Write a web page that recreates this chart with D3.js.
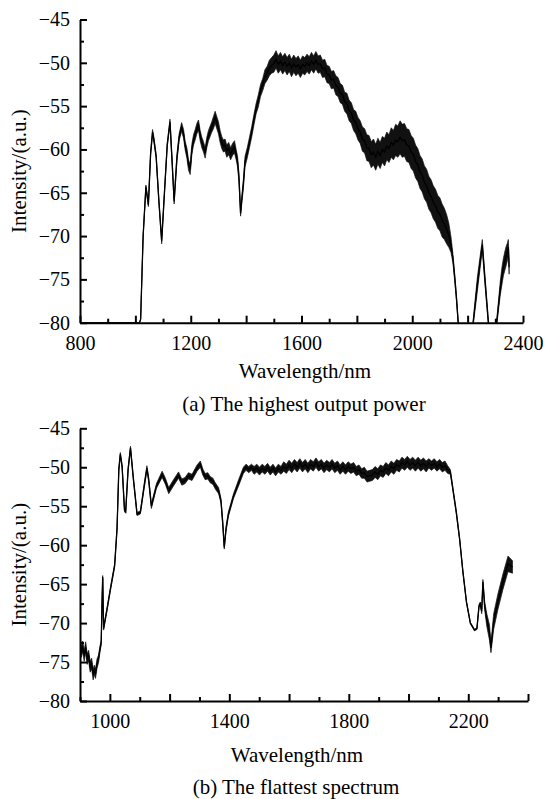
<!DOCTYPE html>
<html>
<head>
<meta charset="utf-8">
<style>
  body { margin: 0; background: #fff; }
  text { font-family: "Liberation Serif", "Times New Roman", Times, serif; fill: #000; }
  .axis path, .axis line { stroke: #000; stroke-width: 2; }
</style>
</head>
<body>
<svg width="549" height="799"></svg>
<script src="https://d3js.org/d3.v7.min.js"></script>
<script>
// (a) The highest output power: wavelength (nm), level (dB), noise half-width (dB)
var wlA = [800, 1015, 1019, 1028, 1038, 1047, 1055, 1062, 1067, 1075, 1085, 1095, 1105, 1115, 1125, 1132, 1140, 1150, 1158, 1167,
  1174, 1180, 1186, 1192, 1198, 1204, 1210, 1216, 1222, 1228, 1234, 1240, 1246, 1252, 1258, 1264, 1270, 1276, 1282, 1288,
  1294, 1300, 1306, 1312, 1318, 1324, 1330, 1337, 1344, 1351, 1358, 1364, 1369, 1374, 1380, 1385, 1390, 1396, 1404, 1412,
  1420, 1428, 1436, 1444, 1452, 1460, 1468, 1476, 1484, 1492, 1500, 1508, 1516, 1524, 1532, 1540, 1548, 1556, 1564, 1572,
  1580, 1588, 1596, 1604, 1612, 1620, 1628, 1636, 1644, 1652, 1660, 1668, 1676, 1684, 1692, 1700, 1708, 1716, 1724, 1732,
  1740, 1748, 1756, 1764, 1772, 1780, 1788, 1796, 1804, 1812, 1820, 1828, 1836, 1844, 1852, 1860, 1868, 1876, 1884, 1892,
  1900, 1908, 1916, 1924, 1932, 1940, 1948, 1956, 1964, 1972, 1980, 1988, 1996, 2004, 2012, 2020, 2028, 2036, 2044, 2052,
  2060, 2068, 2076, 2084, 2092, 2100, 2108, 2116, 2124, 2132, 2140, 2147, 2154, 2160, 2166, 2172, 2214, 2220, 2235, 2253,
  2262, 2275, 2282, 2300, 2305, 2318, 2324, 2329, 2335, 2340, 2344, 2347, 2350];
var dbA = [-80, -80, -79.6, -70, -64.3, -66.4, -60.5, -58, -58.9, -60.8, -66, -70.6, -65, -59.5, -56.8, -61, -66, -61, -58.6, -57.4,
  -58.2, -59.6, -60.4, -61.8, -62.3, -60, -58.9, -58.3, -57.6, -57.2, -58.4, -59.2, -59.7, -60.4, -59.2, -58.4, -57.9, -57.4, -56.9, -56.3,
  -56.9, -57.5, -58.5, -59.2, -59.6, -59.5, -60.2, -59.9, -60.5, -60, -59.7, -60.6, -61.4, -63.2, -67.4, -65.6, -64, -61.4, -60.4, -59.2,
  -58, -56.6, -55.3, -54.4, -53.2, -52.5, -51.6, -51.2, -50.6, -50.3, -50.1, -49.6, -50.2, -49.8, -50.3, -49.9, -50.4, -50, -50.6, -50.1,
  -50.5, -50.2, -50.7, -50.2, -50.4, -50, -50.3, -49.8, -50.2, -49.7, -50.2, -50.1, -50.7, -50.6, -51.3, -51.4, -52, -51.9, -52.6, -52.8,
  -53.5, -53.7, -54.5, -54.7, -55.5, -55.8, -56.6, -56.9, -57.6, -58, -58.8, -59, -59.8, -59.9, -60.6, -60.3, -60.9, -60.2, -60.7, -60,
  -60.3, -59.6, -59.9, -59.2, -59.5, -58.9, -59.1, -58.6, -59, -58.9, -59.5, -59.6, -60.3, -60.6, -61.4, -61.8, -62.6, -63, -63.8, -64.2,
  -65, -65.4, -66.1, -66.5, -67.2, -67.5, -68.2, -68.6, -69.2, -69.9, -71, -72.6, -75, -77.3, -80, -82, -82, -80, -75.6, -71,
  -74.8, -80, -82, -82, -80, -76, -74.6, -73.6, -72.8, -72.2, -71.8, -71.3, -73.6];
var noiseA = [0, 0, 0, 0.1, 0.2, 0.2, 0.2, 0.3, 0.3, 0.2, 0.2, 0.3, 0.2, 0.2, 0.3, 0.3, 0.3, 0.4, 0.4, 0.5,
  0.5, 0.5, 0.6, 0.6, 0.6, 0.6, 0.6, 0.6, 0.6, 0.6, 0.6, 0.6, 0.6, 0.6, 0.6, 0.6, 0.6, 0.6, 0.7, 0.7,
  0.7, 0.7, 0.7, 0.7, 0.7, 0.7, 0.7, 0.7, 0.7, 0.7, 0.7, 0.6, 0.6, 0.5, 0.3, 0.4, 0.5, 0.6, 0.6, 0.6,
  0.6, 0.6, 0.6, 0.7, 0.7, 0.7, 0.8, 0.8, 0.9, 0.9, 1.0, 1.0, 1.0, 1.0, 1.0, 1.0, 1.0, 1.0, 1.0, 1.0,
  1.0, 1.0, 1.0, 1.0, 1.0, 1.0, 1.0, 1.0, 1.0, 1.0, 1.0, 1.0, 1.0, 1.0, 1.0, 1.0, 1.0, 1.0, 1.1, 1.1,
  1.1, 1.1, 1.1, 1.2, 1.2, 1.2, 1.2, 1.3, 1.3, 1.3, 1.4, 1.4, 1.5, 1.5, 1.5, 1.5, 1.5, 1.5, 1.5, 1.5,
  1.6, 1.6, 1.6, 1.7, 1.7, 1.8, 1.8, 1.9, 1.9, 1.9, 1.9, 1.9, 1.9, 1.9, 1.9, 1.9, 1.9, 1.9, 1.9, 1.9,
  1.9, 1.9, 1.9, 1.9, 1.9, 1.9, 1.9, 1.8, 1.7, 1.4, 0.9, 0.5, 0.4, 0.3, 0.2, 0, 0, 0.3, 0.8, 0.6,
  0.5, 0.3, 0, 0, 0.3, 0.8, 1.0, 1.0, 1.1, 1.1, 1.0, 0.9, 0.8];

// (b) The flattest spectrum
var wlB = [900, 904, 909, 914, 919, 924, 929, 934, 939, 944, 948, 952, 957, 962, 967, 971, 974, 976, 979, 991,
  1002, 1016, 1024, 1030, 1035, 1041, 1049, 1053, 1061, 1069, 1078, 1091, 1102, 1115, 1124, 1130, 1139, 1156, 1175, 1186,
  1197, 1213, 1230, 1241, 1252, 1263, 1275, 1292, 1303, 1311, 1319, 1328, 1336, 1345, 1353, 1364, 1372, 1378, 1383, 1389,
  1397, 1414, 1431, 1447, 1456, 1465, 1474, 1483, 1492, 1501, 1510, 1519, 1528, 1537, 1546, 1555, 1564, 1573, 1582, 1591,
  1600, 1609, 1618, 1627, 1636, 1645, 1654, 1663, 1672, 1681, 1690, 1699, 1708, 1717, 1726, 1735, 1744, 1753, 1762, 1771,
  1780, 1789, 1798, 1807, 1816, 1825, 1834, 1843, 1852, 1861, 1870, 1879, 1888, 1897, 1906, 1915, 1924, 1933, 1942, 1951,
  1960, 1969, 1978, 1987, 1996, 2005, 2014, 2023, 2032, 2041, 2050, 2059, 2068, 2077, 2086, 2095, 2104, 2113, 2122, 2131,
  2140, 2147, 2160, 2171, 2182, 2194, 2207, 2221, 2229, 2236, 2240, 2245, 2249, 2255, 2262, 2271, 2276, 2285, 2299, 2316,
  2333, 2348];
var dbB = [-71.5, -73.8, -73, -74.2, -73.1, -74.6, -74.2, -75.6, -75.2, -76.6, -76, -76.5, -75.2, -74.6, -73.3, -72.5, -67, -64.1, -70.7, -68.1,
  -65.6, -62.6, -57.9, -50.3, -48.3, -49.9, -55.5, -55.7, -50.3, -47.5, -51.2, -56, -55.8, -52.4, -50.1, -51.6, -55, -52.4, -50.9, -51.8,
  -53, -52, -51, -51.9, -51.7, -51.1, -51.3, -50.1, -49.6, -50.6, -51.2, -51.1, -51.6, -51.8, -52.4, -53, -54.3, -57.2, -60.3, -57.9,
  -56, -53.7, -52, -50.4, -50, -50.3, -50, -50.4, -50.1, -50.5, -50.1, -50.4, -50, -50.5, -50.1, -50.6, -50.1, -50.4, -49.9, -50.2,
  -49.7, -50.1, -49.6, -50, -49.5, -50, -49.6, -50.1, -49.6, -49.9, -49.4, -49.9, -49.6, -50.1, -49.7, -50, -49.6, -50.1, -49.8, -50.3,
  -49.9, -50.3, -49.9, -50.2, -50, -50.5, -50.3, -50.8, -50.7, -51.2, -51.1, -51, -50.6, -50.9, -50.4, -50.6, -50.1, -50.4, -49.9, -50.2,
  -49.7, -49.9, -49.4, -49.7, -49.3, -49.7, -49.4, -49.8, -49.4, -49.8, -49.5, -49.9, -49.5, -49.8, -49.5, -49.9, -49.6, -50, -49.8, -50.3,
  -50.6, -52.4, -55.8, -59.2, -63.4, -67.3, -70, -70.9, -70.7, -67.8, -67.5, -68.5, -64.7, -67.8, -69.6, -71.2, -73.2, -69.8, -67.3, -64.7,
  -62.4, -62.8];
var noiseB = [0.6, 0.6, 0.7, 0.7, 0.7, 0.7, 0.7, 0.7, 0.7, 0.7, 0.6, 0.6, 0.6, 0.5, 0.4, 0.3, 0.2, 0.2, 0.2, 0.2,
  0.2, 0.2, 0.2, 0.2, 0.2, 0.2, 0.2, 0.2, 0.2, 0.2, 0.2, 0.2, 0.2, 0.3, 0.3, 0.3, 0.3, 0.3, 0.4, 0.4,
  0.4, 0.4, 0.4, 0.4, 0.4, 0.4, 0.4, 0.4, 0.4, 0.4, 0.4, 0.4, 0.4, 0.4, 0.4, 0.4, 0.3, 0.3, 0.2, 0.3,
  0.3, 0.3, 0.4, 0.4, 0.4, 0.4, 0.4, 0.5, 0.5, 0.5, 0.5, 0.5, 0.5, 0.5, 0.5, 0.5, 0.5, 0.5, 0.6, 0.6,
  0.6, 0.6, 0.6, 0.6, 0.6, 0.6, 0.6, 0.6, 0.6, 0.6, 0.6, 0.6, 0.6, 0.6, 0.6, 0.6, 0.6, 0.6, 0.6, 0.6,
  0.6, 0.6, 0.6, 0.6, 0.6, 0.6, 0.6, 0.6, 0.7, 0.7, 0.7, 0.7, 0.7, 0.7, 0.7, 0.7, 0.7, 0.7, 0.7, 0.7,
  0.7, 0.7, 0.7, 0.7, 0.7, 0.7, 0.7, 0.7, 0.7, 0.7, 0.7, 0.7, 0.6, 0.6, 0.6, 0.6, 0.6, 0.6, 0.6, 0.5,
  0.3, 0.2, 0.2, 0.1, 0.1, 0.1, 0.1, 0.1, 0.1, 0.2, 0.2, 0.3, 0.3, 0.5, 0.8, 1.0, 0.6, 1.0, 1.0, 1.0,
  1.0, 0.8];

var yTickLabels = [-45, -50, -55, -60, -65, -70, -75, -80];
var xTickLabelsA = [800, 1200, 1600, 2000, 2400];
var xTickLabelsB = [1000, 1400, 1800, 2200];

var svg = d3.select("svg");

function panel(o) {
  var x = d3.scaleLinear().domain(o.xDomain).range([o.left, o.right]);
  var y = d3.scaleLinear().domain([-80, -45]).range([o.bottom, o.top]);
  var g = svg.append("g");

  g.append("clipPath").attr("id", "clip" + o.id)
    .append("rect")
    .attr("x", o.left).attr("y", o.top - 10)
    .attr("width", o.right - o.left).attr("height", o.bottom - o.top + 10);

  var pts = o.wl.map(function (w, i) { return { w: w, v: o.db[i], n: o.noise[i] }; });

  var area = d3.area()
    .x(function (d) { return x(d.w); })
    .y0(function (d) { return y(d.v - d.n); })
    .y1(function (d) { return y(d.v + d.n); });
  var line = d3.line()
    .x(function (d) { return x(d.w); })
    .y(function (d) { return y(d.v); });

  var plot = g.append("g").attr("clip-path", "url(#clip" + o.id + ")");
  plot.append("path").datum(pts)
    .attr("d", area)
    .attr("fill", "#111").attr("stroke", "#111").attr("stroke-width", 0.7);
  plot.append("path").datum(pts)
    .attr("d", line)
    .attr("fill", "none").attr("stroke", "#000").attr("stroke-width", 1.3);

  // x axis, inward ticks: minor every 100, major every 200
  var xa = g.append("g").attr("class", "axis")
    .attr("transform", "translate(0," + o.bottom + ")")
    .call(d3.axisBottom(x)
      .tickValues(d3.range(o.xDomain[0], o.xDomain[1] + 1, 100))
      .tickSize(-4).tickSizeOuter(0).tickPadding(13)
      .tickFormat(function (d) { return o.xLabels.indexOf(d) >= 0 ? String(d) : ""; }));
  xa.selectAll(".tick line").filter(function (d) { return d % 200 === 0; }).attr("y2", -7);
  xa.attr("font-size", 20).attr("font-family", "Liberation Serif");

  // y axis, minor every 2.5, major every 5
  var ya = g.append("g").attr("class", "axis")
    .attr("transform", "translate(" + o.left + ",0)")
    .call(d3.axisLeft(y)
      .tickValues(d3.range(-80, -44.9, 2.5))
      .tickSize(-4).tickSizeOuter(0).tickPadding(10)
      .tickFormat(function (d) { return yTickLabels.indexOf(d) >= 0 ? d3.format("d")(d) : ""; }));
  ya.selectAll(".tick line").filter(function (d) { return d % 5 === 0; }).attr("x2", 7);
  ya.attr("font-size", 20).attr("font-family", "Liberation Serif");

  g.append("text")
    .attr("transform", "translate(26," + ((o.top + o.bottom) / 2) + ") rotate(-90)")
    .attr("text-anchor", "middle").attr("font-size", 21)
    .text("Intensity/(a.u.)");
  g.append("text")
    .attr("x", o.titleX).attr("y", o.titleY)
    .attr("text-anchor", "middle").attr("font-size", 21)
    .text("Wavelength/nm");
  g.append("text")
    .attr("x", o.capX).attr("y", o.capY)
    .attr("text-anchor", "middle").attr("font-size", 21)
    .text(o.caption);
}

panel({
  id: "a", wl: wlA, db: dbA, noise: noiseA, xLabels: xTickLabelsA,
  xDomain: [800, 2400], left: 80, right: 523, top: 19.5, bottom: 322.7,
  titleX: 305, titleY: 378, capX: 304, capY: 411,
  caption: "(a) The highest output power"
});
panel({
  id: "b", wl: wlB, db: dbB, noise: noiseB, xLabels: xTickLabelsB,
  xDomain: [900, 2400], left: 80, right: 528, top: 428.3, bottom: 701,
  titleX: 297, titleY: 762, capX: 296, capY: 794,
  caption: "(b) The flattest spectrum"
});
</script>
</body>
</html>
